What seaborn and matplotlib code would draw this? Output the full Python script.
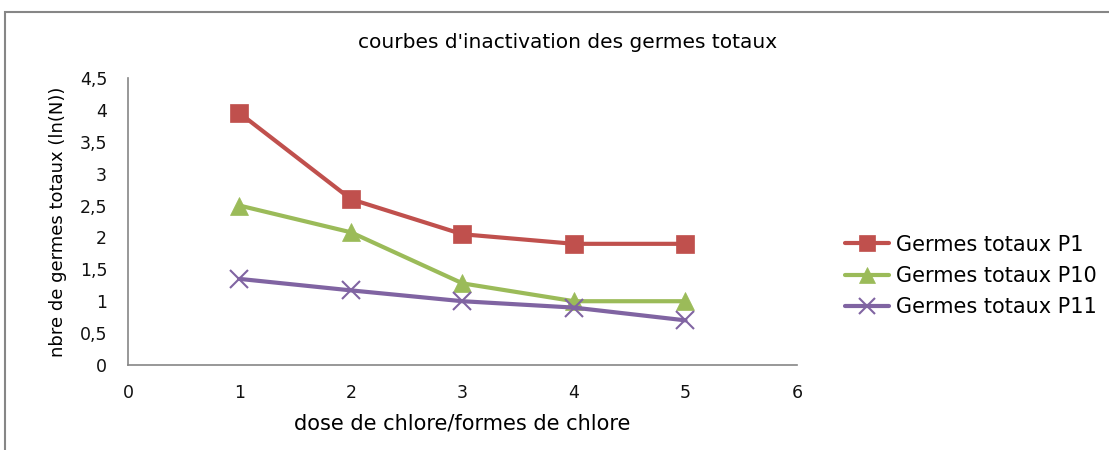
import matplotlib
matplotlib.use('Agg')
import matplotlib.pyplot as plt
import matplotlib.ticker as mticker
from matplotlib.patches import Rectangle
import seaborn as sns

# data
doses = [1, 2, 3, 4, 5]
p1 = [3.95, 2.6, 2.05, 1.9, 1.9]
p10 = [2.5, 2.08, 1.28, 1.0, 1.0]
p11 = [1.35, 1.17, 1.0, 0.9, 0.7]
series_names = ["Germes totaux P1", "Germes totaux P10", "Germes totaux P11"]
colors = ["#C0504D", "#9BBB59", "#8064A2"]
markers = ["s", "^", "x"]

sns.set_style("white")
plt.rcParams['font.family'] = ['DejaVu Sans']
plt.rcParams['text.color'] = 'black'
plt.rcParams['axes.labelcolor'] = 'black'

fig = plt.figure(figsize=(11.09, 4.5), dpi=100)
ax = fig.add_axes([128 / 1109, 1 - 365 / 450, (797 - 128) / 1109, (365 - 78) / 450])

for vals, name, c, m in zip([p1, p10, p11], series_names, colors, markers):
    sns.lineplot(x=doses, y=vals, color=c, marker=m, linewidth=3,
                 markersize=13, markeredgewidth=1.5 if m == "x" else 0.5,
                 markeredgecolor=c, label=name, ax=ax, legend=False)

ax.set_xlim(0, 6)
ax.set_ylim(0, 4.5)
ax.set_xticks(range(0, 7))
ax.set_yticks([i * 0.5 for i in range(10)])
ax.yaxis.set_major_formatter(mticker.FuncFormatter(lambda v, p: f"{v:g}".replace(".", ",")))
ax.tick_params(length=0, labelsize=12.5, labelcolor='#111111')
ax.tick_params(axis='y', pad=15)
ax.tick_params(axis='x', pad=14)

sns.despine(ax=ax)
for s in ["left", "bottom"]:
    ax.spines[s].set_color("#868686")
    ax.spines[s].set_linewidth(1.2)

ax.set_xlabel("dose de chlore/formes de chlore", fontsize=15, labelpad=8)
ax.set_ylabel("nbre de germes totaux (ln(N))", fontsize=13, labelpad=9)
fig.text(568 / 1109, 1 - 42 / 450, "courbes d'inactivation des germes totaux",
         ha="center", va="center", fontsize=14.5)

# legend
handles, labels = ax.get_legend_handles_labels()
leg = fig.legend(handles, labels, loc="center left",
                 bbox_to_anchor=(826 / 1109, 1 - 276 / 450), frameon=False,
                 fontsize=15, handlelength=2.1, handletextpad=0.35,
                 labelspacing=0.55, markerscale=0.85)

# outer chart border
fig.patches.append(Rectangle((5 / 1109, -0.1), 1.2, 1 - 12 / 450 + 0.1,
                             transform=fig.transFigure, fill=False,
                             edgecolor="#868686", linewidth=1.5))

fig.savefig("out.png", dpi=100)
